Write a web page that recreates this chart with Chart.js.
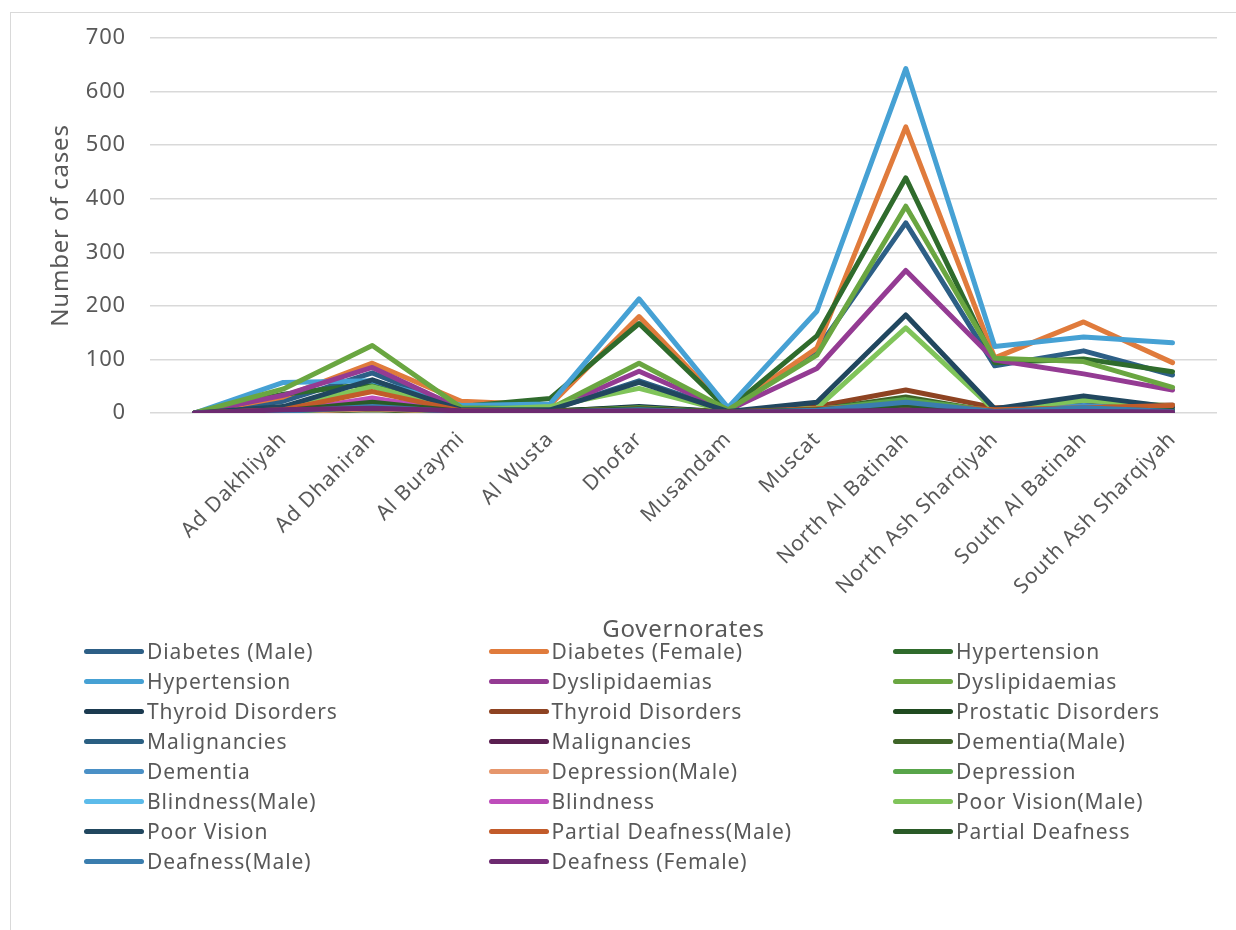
<!DOCTYPE html>
<html>
<head>
<meta charset="utf-8">
<script src="https://cdn.jsdelivr.net/npm/chart.js@4/dist/chart.umd.min.js"></script>
<style>
  html, body { margin: 0; padding: 0; background: #fff; }
  #frame { position: absolute; left: 10px; top: 12px; width: 1230px; height: 930px;
           border-left: 1px solid #d9d9d9; border-top: 1px solid #d9d9d9; }
  #wrap { position: absolute; left: 0; top: 0; width: 1236px; height: 645px; }
  #legend { position: absolute; left: 0; top: 0; width: 1236px; height: 930px; pointer-events: none; }
  .item { position: absolute; height: 30px; display: flex; align-items: center;
          font-family: "Noto Sans", sans-serif; font-size: 21px; letter-spacing: 0.9px;
          color: #595959; white-space: nowrap; }
  .swatch { width: 60px; height: 5px; border-radius: 3px; margin-right: 3px; }
</style>
</head>
<body>
<div id="frame"></div>
<div id="wrap"><canvas id="chart" width="1236" height="645"></canvas></div>
<div id="legend"></div>
<script>
// Governorates (the first slot is an unlabeled category that starts every line at zero)
const governorates = ['', 'Ad Dakhliyah', 'Ad Dhahirah', 'Al Buraymi', 'Al Wusta', 'Dhofar', 'Musandam',
  'Muscat', 'North Al Batinah', 'North Ash Sharqiyah', 'South Al Batinah', 'South Ash Sharqiyah'];

const yTicks = [0, 100, 200, 300, 400, 500, 600, 700];

// Number of cases per governorate, one array per condition
const diabetesMale        = [0, 22, 75, 8, 6, 60, 5, 118, 355, 88, 116, 71];
const diabetesFemale      = [0, 30, 93, 22, 15, 180, 7, 121, 534, 103, 170, 94];
const hypertensionA       = [0, 35, 55, 12, 27, 167, 6, 144, 439, 94, 101, 77];
const hypertensionB       = [0, 57, 60, 14, 17, 213, 10, 190, 643, 124, 142, 131];
const dyslipidaemiasA     = [0, 33, 85, 8, 5, 78, 5, 83, 266, 99, 73, 43];
const dyslipidaemiasB     = [0, 45, 126, 10, 8, 93, 6, 108, 386, 102, 96, 48];
const thyroidA            = [0, 5, 14, 3, 3, 12, 2, 8, 22, 4, 15, 5];
const thyroidB            = [0, 4, 12, 3, 3, 8, 2, 12, 43, 10, 12, 15];
const prostatic           = [0, 6, 19, 4, 4, 10, 2, 6, 15, 3, 8, 5];
const malignanciesA       = [0, 3, 10, 2, 2, 6, 1, 5, 20, 3, 6, 3];
const malignanciesB       = [0, 2, 8, 2, 2, 5, 1, 4, 10, 2, 4, 2];
const dementiaMale        = [0, 2, 6, 1, 1, 5, 1, 6, 30, 2, 5, 3];
const dementia            = [0, 3, 12, 2, 2, 8, 1, 7, 21, 3, 14, 4];
const depressionMale      = [0, 2, 8, 2, 1, 5, 1, 4, 8, 2, 3, 2];
const depression          = [0, 3, 10, 2, 2, 10, 1, 6, 25, 4, 8, 4];
const blindnessMale       = [0, 2, 26, 2, 2, 7, 1, 4, 10, 2, 5, 3];
const blindness           = [0, 2, 28, 2, 2, 6, 1, 4, 8, 2, 4, 2];
const poorVisionMale      = [0, 10, 49, 5, 12, 46, 3, 9, 159, 5, 24, 13];
const poorVision          = [0, 12, 62, 6, 6, 57, 3, 20, 183, 8, 32, 11];
const partialDeafMale     = [0, 6, 40, 4, 3, 8, 2, 8, 15, 6, 10, 14];
const partialDeaf         = [0, 4, 20, 3, 3, 8, 2, 6, 15, 3, 6, 4];
const deafnessMale        = [0, 3, 12, 2, 2, 6, 1, 5, 20, 3, 10, 3];
const deafnessFemale      = [0, 6, 9, 4, 3, 4, 2, 3, 5, 2, 3, 2];

const seriesNames = ['Diabetes (Male)', 'Diabetes (Female)', 'Hypertension', 'Hypertension',
  'Dyslipidaemias', 'Dyslipidaemias', 'Thyroid Disorders', 'Thyroid Disorders', 'Prostatic Disorders',
  'Malignancies', 'Malignancies', 'Dementia(Male)', 'Dementia', 'Depression(Male)', 'Depression',
  'Blindness(Male)', 'Blindness', 'Poor Vision(Male)', 'Poor Vision', 'Partial Deafness(Male)',
  'Partial Deafness', 'Deafness(Male)', 'Deafness (Female)'];

const seriesValues = [diabetesMale, diabetesFemale, hypertensionA, hypertensionB, dyslipidaemiasA,
  dyslipidaemiasB, thyroidA, thyroidB, prostatic, malignanciesA, malignanciesB, dementiaMale, dementia,
  depressionMale, depression, blindnessMale, blindness, poorVisionMale, poorVision, partialDeafMale,
  partialDeaf, deafnessMale, deafnessFemale];

const seriesColors = ['#2D5F86', '#E07B3C', '#2F6B2C', '#46A1D4', '#943B93', '#6AA641', '#1B3A50',
  '#8E4322', '#1F4A1F', '#2A5F82', '#5A1F50', '#3E6427', '#4A90C6', '#E6966C', '#58A54A', '#5CBBEA',
  '#BE4DBB', '#80C45A', '#21475F', '#C25B2A', '#2A5A27', '#3A7DAE', '#6D2A70'];

const textColor = '#595959';
const fontFamily = '"Noto Sans", sans-serif';

const datasets = seriesNames.map((name, i) => ({
  label: name,
  data: seriesValues[i],
  borderColor: seriesColors[i],
  backgroundColor: seriesColors[i],
  borderWidth: 5,
  pointRadius: 0,
  tension: 0,
  borderJoinStyle: 'round',
  borderCapStyle: 'round',
  order: seriesNames.length - i   // later series are painted on top
}));

// Slightly open letter spacing for all canvas text
const spacing = {
  id: 'spacing',
  beforeInit: (c) => { c.ctx.letterSpacing = '0.8px'; },
  beforeDraw: (c) => { c.ctx.letterSpacing = '0.8px'; }
};

const chart = new Chart(document.getElementById('chart'), {
  type: 'line',
  data: { labels: governorates, datasets },
  plugins: [spacing],
  options: {
    responsive: false,
    animation: false,
    layout: { padding: { left: 10, right: 19, top: 38, bottom: 0 } },
    plugins: { legend: { display: false }, tooltip: { enabled: false } },
    scales: {
      x: {
        offset: true,
        grid: { display: false },
        border: { display: false },
        ticks: {
          color: textColor, font: { family: fontFamily, size: 21 },
          maxRotation: 45, minRotation: 45, autoSkip: false, padding: 6
        },
        title: {
          display: true, text: 'Governorates', color: textColor,
          font: { family: fontFamily, size: 24 }, padding: { top: 0, bottom: 0 }
        },
        afterFit: (s) => { s.height = 232; }
      },
      y: {
        min: 0, max: 700,
        afterBuildTicks: (s) => { s.ticks = yTicks.map(v => ({ value: v })); },
        grid: { color: '#d9d9d9', lineWidth: 1.5, drawTicks: false },
        border: { display: false },
        ticks: { color: textColor, font: { family: fontFamily, size: 22 }, padding: 24 },
        title: {
          display: true, text: 'Number of cases', color: textColor,
          font: { family: fontFamily, size: 24 }, padding: { top: 37, bottom: 0 }
        },
        afterFit: (s) => { s.width = 140; }
      }
    }
  }
});

// Legend in three columns, laid out row by row
const legend = document.getElementById('legend');
chart.data.datasets.forEach((ds, i) => {
  const row = Math.floor(i / 3), col = i % 3;
  const el = document.createElement('div');
  el.className = 'item';
  el.style.left = (84 + col * 404.5) + 'px';
  el.style.top = (636 + row * 30) + 'px';
  const sw = document.createElement('span');
  sw.className = 'swatch';
  sw.style.background = ds.borderColor;
  const tx = document.createElement('span');
  tx.textContent = ds.label;
  el.appendChild(sw);
  el.appendChild(tx);
  legend.appendChild(el);
});
</script>
</body>
</html>
